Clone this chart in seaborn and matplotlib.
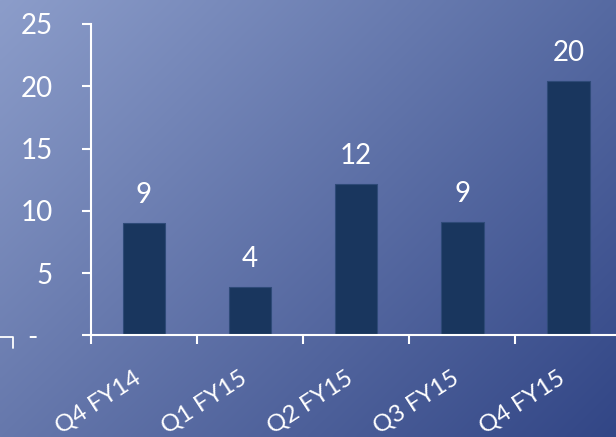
import numpy as np
import matplotlib
matplotlib.use("Agg")
import matplotlib.pyplot as plt
from matplotlib.lines import Line2D
import seaborn as sns
import pandas as pd

# ---- data ----
quarters = ["Q4 FY14", "Q1 FY15", "Q2 FY15", "Q3 FY15", "Q4 FY15"]
values = [9.0, 3.86, 12.15, 9.08, 20.4]
y_ticks = [0, 5, 10, 15, 20, 25]
y_tick_labels = ["-  ", "5", "10", "15", "20", "25"]

sns.set_style("ticks")
plt.rcParams["font.family"] = ["Lato", "DejaVu Sans"]

W, H = 616, 437
fig = plt.figure(figsize=(W / 100, H / 100), dpi=100)

# gradient background
bg = fig.add_axes([0, 0, 1, 1], zorder=0)
tl = np.array([140, 157, 202]) / 255
tr = np.array([86, 106, 162]) / 255
bl = np.array([102, 120, 172]) / 255
br = np.array([50, 70, 134]) / 255
u = np.linspace(0, 1, 200)[None, :, None]
v = np.linspace(0, 1, 150)[:, None, None]
grad = (1 - v) * ((1 - u) * tl + u * tr) + v * ((1 - u) * bl + u * br)
bg.imshow(grad, aspect="auto", extent=[0, 1, 0, 1], interpolation="bilinear")
bg.set_axis_off()

# main axes (extends slightly past the right edge like the original)
left = 91 / W
bottom = (H - 335.3) / H
width = 530.5 / W
height = 311.3 / H
ax = fig.add_axes([left, bottom, width, height], zorder=1)
ax.patch.set_alpha(0)

df = pd.DataFrame({"quarter": quarters, "value": values})
sns.barplot(data=df, x="quarter", y="value", ax=ax, width=0.4,
            color="#19365E", edgecolor="#2E4A78", linewidth=0.8, saturation=1)

for i, v_ in enumerate(values):
    ax.annotate(f"{v_:.0f}", (i, v_), xytext=(0, 14.5), textcoords="offset points",
                ha="center", va="baseline", color="white", fontsize=20)

ax.set_xlim(-0.5, 4.5)
ax.set_ylim(0, 25)
ax.set_xlabel("")
ax.set_ylabel("")

for s in ["top", "right"]:
    ax.spines[s].set_visible(False)
for s in ["left", "bottom"]:
    ax.spines[s].set_color("white")
    ax.spines[s].set_linewidth(1.5)

ax.set_yticks(y_ticks, labels=y_tick_labels)
ax.tick_params(axis="y", which="major", length=6.5, width=1.5, color="white",
               labelcolor="white", labelsize=20, pad=21)

ax.set_xticks(np.arange(-0.5, len(quarters) + 0.5, 1.0), labels=[])
ax.tick_params(axis="x", which="major", length=6.5, width=1.5, color="white")
ax.set_xticks(np.arange(len(quarters)), labels=quarters, minor=True)
ax.tick_params(axis="x", which="minor", length=0, labelcolor="white",
               labelsize=17.5, pad=23)
for lbl in ax.get_xticklabels(minor=True):
    lbl.set_rotation(33)
    lbl.set_ha("right")

# small corner mark at bottom-left
fig.add_artist(Line2D([0 / W, 13 / W, 13 / W], [1 - 337 / H, 1 - 337 / H, 1 - 348 / H],
                      transform=fig.transFigure, color="white", lw=1.3))

fig.savefig("out.png", dpi=100)
